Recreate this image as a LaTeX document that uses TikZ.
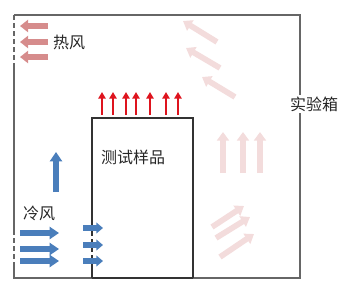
\documentclass[tikz,border=0pt]{standalone}
\usepackage{fontspec}
\newfontfamily\cjk{Noto Sans CJK SC}
\usetikzlibrary{arrows.meta}
\definecolor{hotred}{RGB}{214,140,140}
\definecolor{faintred}{RGB}{243,220,220}
\definecolor{riserred}{RGB}{222,20,30}
\definecolor{coldblue}{RGB}{74,126,187}
\begin{document}
\begin{tikzpicture}[
    x=0.75pt, y=-0.75pt,
    font=\cjk\fontsize{12}{14}\selectfont,
    wall/.style={draw=black!60, line width=0.9pt},
    vent/.style={wall, dash pattern=on 4pt off 2pt},
    sample/.style={draw=black!80, line width=0.8pt},
    label/.style={inner sep=1pt, text=black!85},
    hotarrow/.style={-{Triangle[length=6pt, width=9pt]}, line width=5pt, draw=hotred},
    fadearrow/.style={-{Triangle[length=6.5pt, width=9pt]}, line width=4.3pt, draw=faintred},
    riser/.style={-{Triangle[length=5pt, width=5.5pt]}, line width=2pt, draw=riserred},
    coldarrow/.style={-{Triangle[length=7pt, width=9pt]}, line width=5pt, draw=coldblue},
    smallcold/.style={-{Triangle[length=5pt, width=8pt]}, line width=4.3pt, draw=coldblue}
]
    \useasboundingbox (0,0) rectangle (361,294);

    % test chamber
    \coordinate (tl) at (14,15);
    \coordinate (tr) at (300,15);
    \coordinate (br) at (300,278);
    \coordinate (bl) at (14,278);
    \draw[wall] (14,63) -- (14,230);
    \draw[wall] (14,263) -- (bl) -- (br) -- (tr) -- (tl);
    \draw[vent] (tl) -- (14,63);
    \draw[vent] (14,230) -- (14,263);
    \node[label, fill=white] (chamber) at (314,104) {实验箱};

    % test sample
    \draw[sample] (92,223) -- (92,118) -- (193,118) -- (193,278);
    \draw[sample, line width=1.3pt] (92,278) -- (193,278);
    \draw[sample] (92,263) -- (92,278);
    \draw[sample, dash pattern=on 4pt off 2pt] (92,223) -- (92,263);
    \node[label] (specimen) at (133,157) {测试样品};

    % hot air out
    \foreach \y in {26,42,57}
        \draw[hotarrow] (48,\y) -- (20,\y);
    \node[label] (hot) at (69,42) {热风};

    % heat rising from the sample
    \foreach \x in {102,113,126,136,150,166,178}
        \draw[riser] (\x,115) -- (\x,92);

    % faint circulation
    \draw[fadearrow] (217,42) -- (183,21);
    \draw[fadearrow] (220,68) -- (186,48);
    \draw[fadearrow] (235,97) -- (202,77);
    \foreach \x in {223,243,260}
        \draw[fadearrow] (\x,173) -- (\x,132);
    \draw[fadearrow] (212,227) -- (244,206);
    \draw[fadearrow] (216,238) -- (250,217);
    \draw[fadearrow] (220,257) -- (254,234);

    % cold air in
    \draw[coldarrow] (56,192) -- (56,152);
    \node[label] (cold) at (39,213) {冷风};
    \foreach \y in {233,249,261}
        \draw[coldarrow] (20,\y) -- (59,\y);
    \foreach \y in {228,245,261}
        \draw[smallcold] (83,\y) -- (103,\y);
\end{tikzpicture}
\end{document}
